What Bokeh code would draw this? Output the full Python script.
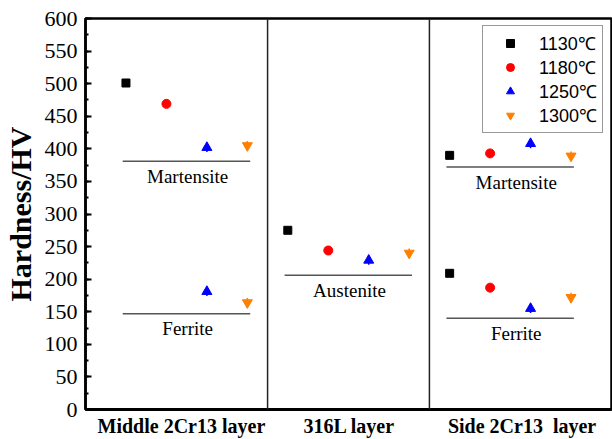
import numpy as np
from bokeh.plotting import figure
from bokeh.models import (ColumnDataSource, Legend, LegendItem, Span, FixedTicker,
                          SingleIntervalTicker, Range1d)
from bokeh.core.properties import value
from bokeh.embed import file_html
from bokeh.resources import INLINE

# ---------------- data ----------------
layers = ["Middle 2Cr13 layer", "316L layer", "Side 2Cr13  layer"]
temps = ["1130\u2103", "1180\u2103", "1250\u2103", "1300\u2103"]
# each region: layer index + microstructure phase
region_layer = [0, 0, 1, 2, 2]
region_phase = ["Martensite", "Ferrite", "Austenite", "Martensite", "Ferrite"]
# hardness (HV) per region, one list per temperature
hv_1130 = [501, None, 275, 390, 209]
hv_1180 = [469, None, 244, 393, 187]
hv_1250 = [402, 181, 229, 408, 155]
hv_1300 = [405, 164, 240, 389, 172]
err_1130 = [3, 3, 3, 3, 3]
err_1180 = [3, 3, 3, 3, 3]
err_1250 = [7, 7, 7, 7, 7]
err_1300 = [7, 7, 7, 7, 7]
# reference hardness level drawn under each phase group
phase_line_hv = [381, 147, 206, 372, 140]
y_ticks_step = 50

series = [
    (temps[0], hv_1130, err_1130, "square", "black", 8),
    (temps[1], hv_1180, err_1180, "circle", "#FF0000", 9),
    (temps[2], hv_1250, err_1250, "triangle", "#0000FF", 10),
    (temps[3], hv_1300, err_1300, "inverted_triangle", "#FF8000", 10),
]

SERIF = "Liberation Serif"

p = figure(width=612, height=439, output_backend="svg", toolbar_location=None,
           x_range=Range1d(0, 13), y_range=Range1d(0, 600),
           min_border_left=85, min_border_right=1, min_border_top=18, min_border_bottom=29)
p.background_fill_color = "white"
p.border_fill_color = "white"
p.grid.visible = False
p.outline_line_color = "black"
p.outline_line_width = 2.5

# y axis
ya = p.yaxis[0]
ya.ticker = SingleIntervalTicker(interval=y_ticks_step, num_minor_ticks=2)
ya.axis_line_width = 2.5
ya.major_tick_in = 6
ya.major_tick_out = 0
ya.minor_tick_in = 3
ya.minor_tick_out = 0
ya.major_tick_line_width = 2
ya.minor_tick_line_width = 2
ya.major_label_text_font = SERIF
ya.major_label_text_font_size = "22px"
ya.major_label_text_color = "black"
ya.major_label_standoff = 8
ya.axis_label = "Hardness/HV"
ya.axis_label_text_font = SERIF
ya.axis_label_text_font_style = "bold"
ya.axis_label_text_font_size = "30px"
ya.axis_label_text_color = "black"
ya.axis_label_standoff = 5

# x axis: layer names
label_shift = [-0.13, 0.02, 0.29]
xt = [i * 4 + 2.5 + label_shift[i] for i in range(len(layers))]
xa = p.xaxis[0]
xa.ticker = FixedTicker(ticks=xt)
xa.major_label_overrides = {t: lab.replace("  ", " \u00a0") for t, lab in zip(xt, layers)}
xa.axis_line_width = 3
xa.major_tick_line_color = None
xa.minor_tick_line_color = None
xa.major_tick_in = 0
xa.major_tick_out = 0
xa.major_label_standoff = 5
xa.major_label_text_font = SERIF
xa.major_label_text_font_style = "bold"
xa.major_label_text_font_size = "20px"
xa.major_label_text_color = "black"

# layer dividers
for k in range(1, len(layers)):
    p.add_layout(Span(location=k * 4 + 0.5, dimension="height",
                      line_color="#222222", line_width=1.5))

# phase reference lines + labels
lx0, lx1, lx, ly, lt = [], [], [], [], []
for li, ph, hv in zip(region_layer, region_phase, phase_line_hv):
    a = li * 4 + 0.92
    b = li * 4 + 4.07
    lx0.append(a); lx1.append(b)
    lx.append((a + b) / 2 + (0.15 if li == 2 else 0.03))
    ly.append(hv); lt.append(ph)
p.segment(x0=lx0, y0=phase_line_hv, x1=lx1, y1=phase_line_hv,
          line_color="#555555", line_width=1.5)
p.text(x=lx, y=ly, text=lt, text_font=value(SERIF), text_font_size="19px",
       text_align="center", text_baseline="middle", y_offset=15, text_color="black")

items = []
for si, (name, vals, errs, marker, color, size) in enumerate(series):
    xs, ys, lo, hi = [], [], [], []
    for ri, v in enumerate(vals):
        if v is None:
            continue
        xs.append(region_layer[ri] * 4 + si + 1)
        ys.append(v)
        lo.append(v - errs[ri]); hi.append(v + errs[ri])
    src = ColumnDataSource(dict(x=xs, y=ys, lo=lo, hi=hi))
    p.segment(x0="x", y0="lo", x1="x", y1="hi", source=src,
              line_color=color, line_width=1.5)
    r = p.scatter(x="x", y="y", source=src, marker=marker, size=size,
                  fill_color=color, line_color=color)
    items.append(LegendItem(label=name, renderers=[r]))

legend = Legend(items=items, location=(397, 276), margin=0, padding=5,
                spacing=0, glyph_width=44, glyph_height=20, label_height=20,
                label_standoff=7, border_line_color="#333333", border_line_width=1,
                label_text_font="Liberation Sans", label_text_font_size="18px",
                label_text_color="black", background_fill_color="white",
                background_fill_alpha=1)
p.add_layout(legend, "center")

open("out.html", "w").write(file_html(p, INLINE))
